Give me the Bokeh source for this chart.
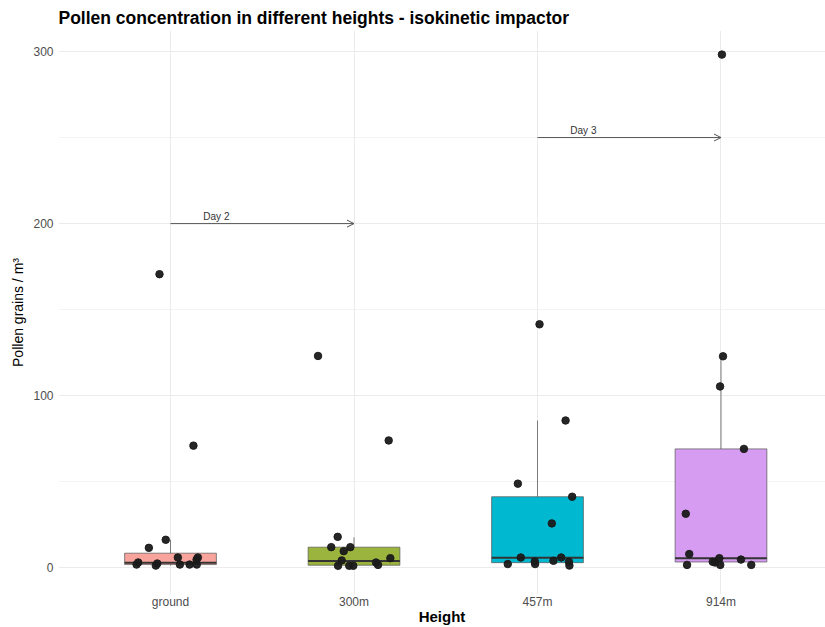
import numpy as np
from bokeh.plotting import figure
from bokeh.models import Range1d, FixedTicker, Arrow, OpenHead, ColumnDataSource
from bokeh.core.properties import value
from bokeh.embed import file_html
from bokeh.resources import INLINE

# ---------------- data ----------------
categories = ["ground", "300m", "457m", "914m"]
box_colors = ["#F8A39C", "#9BB43D", "#00B8CF", "#D69CF2"]

# box statistics (Pollen grains / m3)
box_lower = [1.3, 1.2, 1.2, 1.6]
box_q1 = [1.9, 1.5, 3.0, 3.4]
box_median = [2.9, 4.0, 5.9, 5.6]
box_q3 = [8.5, 12.0, 41.3, 69.1]
box_upper = [16.3, 17.7, 85.6, 122.9]

# individual (jittered) observations: value and horizontal jitter (category units)
ground_vals = [170.6, 71.0, 11.6, 16.3, 3.1, 1.9, 2.5, 1.3, 6.0, 1.9, 1.9, 4.8, 6.0, 1.9]
ground_jit = [-0.06, 0.125, -0.118, -0.026, -0.176, -0.185, -0.072, -0.08, 0.04, 0.051, 0.104, 0.142, 0.149, 0.143]

m300_vals = [123.1, 74.0, 18.0, 12.0, 12.0, 9.7, 4.3, 1.2, 1.2, 1.2, 3.1, 1.7, 5.6]
m300_jit = [-0.196, 0.189, -0.089, -0.124, -0.02, -0.056, -0.067, -0.087, -0.026, -0.004, 0.12, 0.131, 0.198]

m457_vals = [141.5, 85.6, 48.9, 41.3, 25.8, 6.0, 2.2, 2.2, 3.7, 4.1, 6.0, 3.5, 1.3]
m457_jit = [0.011, 0.153, -0.107, 0.189, 0.078, -0.091, -0.162, -0.013, -0.015, 0.087, 0.129, 0.171, 0.174]

m914_vals = [298.2, 122.9, 105.4, 69.1, 31.4, 8.0, 1.7, 3.5, 3.1, 5.6, 1.7, 4.8, 1.7]
m914_jit = [0.005, 0.011, -0.005, 0.125, -0.192, -0.173, -0.185, -0.045, -0.033, -0.009, -0.004, 0.109, 0.165]

# day annotations
arrow_labels = ["Day 2", "Day 3"]
arrow_from = [1, 3]      # category index where the arrow starts
arrow_to = [2, 4]        # category index where the arrow ends
arrow_y = [200, 250]

# ---------------- figure ----------------
p = figure(width=825, height=627, output_backend="svg", toolbar_location=None,
           x_range=Range1d(0.3896, 4.5695), y_range=Range1d(-15.5, 312.2),
           min_border_left=58, min_border_right=0, min_border_top=30, min_border_bottom=0,
           title="Pollen concentration in different heights - isokinetic impactor")
p.outline_line_color = None
p.background_fill_color = "white"
p.border_fill_color = "white"

FONT = "Liberation Sans"
p.title.text_font = FONT
p.title.text_font_size = "17.5px"
p.title.text_font_style = "bold"
p.title.text_color = "black"
p.title.align = "left"
p.title.standoff = 6

idx = np.arange(1, len(categories) + 1)

# axes
p.xaxis.ticker = FixedTicker(ticks=list(idx))
p.xaxis.major_label_overrides = {int(i): c for i, c in zip(idx, categories)}
p.yaxis.ticker = FixedTicker(ticks=[0, 100, 200, 300], minor_ticks=[50, 150, 250])
for ax in (p.xaxis, p.yaxis):
    ax.axis_line_color = None
    ax.major_tick_line_color = None
    ax.minor_tick_line_color = None
    ax.major_tick_out = 0
    ax.minor_tick_out = 0
    ax.major_label_text_font = FONT
    ax.major_label_text_font_size = "12px"
    ax.major_label_text_color = "#4D4D4D"
    ax.axis_label_text_font = FONT
    ax.axis_label_text_color = "black"
p.xaxis.axis_label = "Height"
p.xaxis.axis_label_text_font_style = "bold"
p.xaxis.axis_label_text_font_size = "15px"
p.xaxis.major_label_standoff = 0
p.xaxis.axis_label_standoff = -4
p.yaxis.axis_label = "Pollen grains / m³"
p.yaxis.axis_label_text_font_style = "normal"
p.yaxis.axis_label_text_font_size = "14px"
p.yaxis.major_label_standoff = 5
p.yaxis.axis_label_standoff = 4

# grid
p.xgrid.ticker = FixedTicker(ticks=list(idx))
p.xgrid.grid_line_color = "#EBEBEB"
p.xgrid.grid_line_width = 1
p.ygrid.grid_line_color = "#EBEBEB"
p.ygrid.grid_line_width = 1
p.ygrid.minor_grid_line_color = "#EFEFEF"
p.ygrid.minor_grid_line_width = 0.7

# ---------------- boxes ----------------
bw = 0.5
bsrc = ColumnDataSource(dict(
    x=idx, x0=idx - bw / 2, x1=idx + bw / 2,
    lower=box_lower, q1=box_q1, med=box_median, q3=box_q3, upper=box_upper,
    color=box_colors))
p.segment(x0="x", x1="x", y0="q3", y1="upper", source=bsrc, line_color="#7A7A7A", line_width=1)
p.segment(x0="x", x1="x", y0="q1", y1="lower", source=bsrc, line_color="#7A7A7A", line_width=1)
p.vbar(x="x", width=bw, bottom="q1", top="q3", source=bsrc,
       fill_color="color", line_color="#555555", line_width=0.7)
p.segment(x0="x0", x1="x1", y0="med", y1="med", source=bsrc, line_color="#333333", line_width=2)

# ---------------- points ----------------
all_vals = [ground_vals, m300_vals, m457_vals, m914_vals]
all_jit = [ground_jit, m300_jit, m457_jit, m914_jit]
px, py = [], []
for i, (vals, jit) in enumerate(zip(all_vals, all_jit)):
    for v, j in zip(vals, jit):
        px.append(idx[i] + j)
        py.append(v)
p.scatter(px, py, size=7.5, fill_color="#1A1A1A", line_color="#1A1A1A", fill_alpha=0.95, line_alpha=0.95)

# ---------------- annotations ----------------
for lab, a, b, y in zip(arrow_labels, arrow_from, arrow_to, arrow_y):
    p.add_layout(Arrow(x_start=a, y_start=y, x_end=b, y_end=y,
                       line_color="#555555", line_width=1,
                       end=OpenHead(size=7, line_color="#555555", line_width=1)))
asrc = ColumnDataSource(dict(x=np.array(arrow_from) + 0.25, y=np.array(arrow_y) + 1, t=arrow_labels))
p.text(x="x", y="y", text="t", source=asrc, text_font=value(FONT), text_font_size="10px",
       text_color="#333333", text_align="center", text_baseline="bottom")

open("out.html", "w").write(file_html(p, INLINE))
